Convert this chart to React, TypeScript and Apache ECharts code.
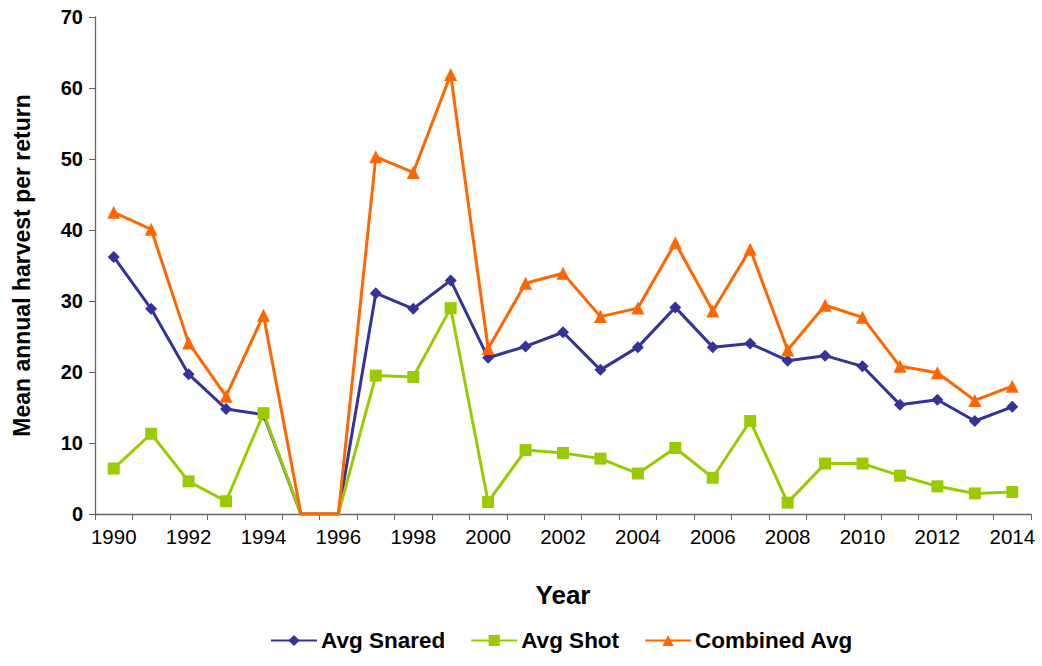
import React, { useEffect, useRef } from "react";
import * as echarts from "echarts";

const years = [
  "1990", "1991", "1992", "1993", "1994", "1995", "1996", "1997", "1998", "1999",
  "2000", "2001", "2002", "2003", "2004", "2005", "2006", "2007", "2008", "2009",
  "2010", "2011", "2012", "2013", "2014",
];
const avgSnared = [
  36.2, 28.9, 19.7, 14.8, 14.0, 0, 0, 31.1, 28.9, 32.9,
  22.0, 23.6, 25.6, 20.3, 23.5, 29.1, 23.5, 24.0, 21.6, 22.3,
  20.8, 15.4, 16.1, 13.1, 15.1,
];
const avgShot = [
  6.4, 11.3, 4.6, 1.8, 14.2, 0, 0, 19.5, 19.3, 29.0,
  1.7, 9.0, 8.6, 7.8, 5.7, 9.3, 5.1, 13.1, 1.6, 7.1,
  7.1, 5.4, 3.9, 2.9, 3.1,
];
const combinedAvg = [
  42.5, 40.1, 24.1, 16.6, 28.0, 0, 0, 50.3, 48.1, 61.9,
  23.3, 32.5, 33.9, 27.8, 29.0, 38.2, 28.6, 37.3, 23.1, 29.4,
  27.7, 20.8, 19.9, 16.0, 18.0,
];

const FONT = "Liberation Sans, Arial, sans-serif";

// Years without returns (value 0) are drawn on the axis without a marker
const toData = (arr: number[]) =>
  arr.map((v) => (v === 0 ? { value: v, symbol: "none" } : v));

export default function App() {
  const ref = useRef<HTMLDivElement>(null);
  useEffect(() => {
    if (!ref.current) return;
    const chart = echarts.init(ref.current, null, { renderer: "svg" });
    chart.setOption({
      animation: false,
      textStyle: { fontFamily: FONT },
      grid: { left: 95, right: 11, top: 17, bottom: 152, containLabel: false },
      legend: {
        left: 265,
        bottom: 9,
        itemWidth: 46,
        itemHeight: 14,
        itemGap: 25,
        textStyle: { fontFamily: FONT, fontSize: 22.5, fontWeight: "bold", color: "#000", padding: [0, 0, 0, -1] },
        data: ["Avg Snared", "Avg Shot", "Combined Avg"],
      },
      xAxis: {
        type: "category",
        data: years,
        boundaryGap: true,
        name: "Year",
        nameLocation: "middle",
        nameGap: 68,
        nameTextStyle: { fontFamily: FONT, fontSize: 26, fontWeight: "bold", color: "#000" },
        axisLine: { lineStyle: { color: "#666", width: 1.3 } },
        axisTick: { show: true, interval: 0, length: 6, lineStyle: { color: "#666" } },
        axisLabel: { interval: 1, margin: 12, fontSize: 20.5, color: "#000", fontFamily: FONT },
        splitLine: { show: false },
      },
      yAxis: {
        type: "value",
        min: 0,
        max: 70,
        interval: 10,
        name: "Mean annual harvest per return",
        nameLocation: "middle",
        nameGap: 62,
        nameRotate: 90,
        nameTextStyle: { fontFamily: FONT, fontSize: 23, fontWeight: "bold", color: "#000" },
        axisLine: { show: true, lineStyle: { color: "#666", width: 1.3 } },
        axisTick: { show: true, length: 6, lineStyle: { color: "#666" } },
        axisLabel: { margin: 12, fontSize: 20, fontWeight: "bold", color: "#000", fontFamily: FONT },
        splitLine: { show: false },
      },
      series: [
        {
          name: "Avg Snared",
          type: "line",
          data: toData(avgSnared),
          symbol: "diamond",
          symbolSize: 12,
          lineStyle: { width: 3, color: "#333399" },
          itemStyle: { color: "#333399" },
        },
        {
          name: "Avg Shot",
          type: "line",
          data: toData(avgShot),
          symbol: "rect",
          symbolSize: 12,
          lineStyle: { width: 3, color: "#99CC00" },
          itemStyle: { color: "#99CC00" },
        },
        {
          name: "Combined Avg",
          type: "line",
          data: toData(combinedAvg),
          symbol: "triangle",
          symbolSize: 13,
          lineStyle: { width: 3, color: "#FF6600" },
          itemStyle: { color: "#FF6600" },
        },
      ],
    });
    return () => chart.dispose();
  }, []);
  return <div ref={ref} style={{ width: 1042, height: 666, position: "absolute", left: 0, top: 0 }} />;
}
